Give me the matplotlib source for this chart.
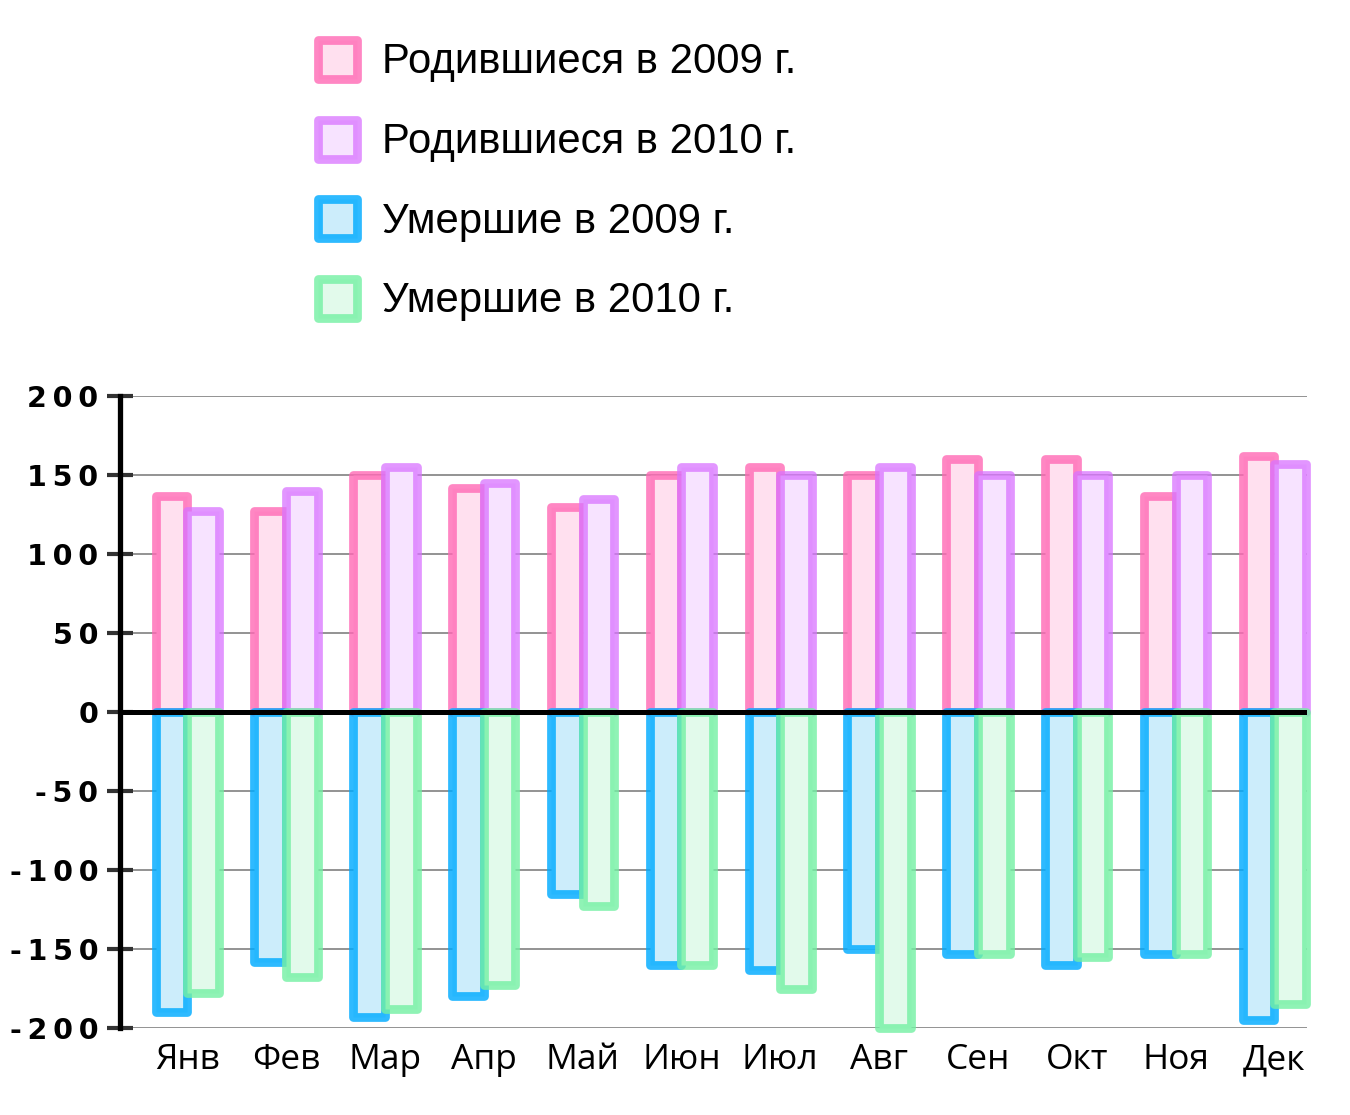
import numpy as np
import matplotlib.pyplot as plt
from matplotlib.patches import Rectangle

# data
months = ["Янв", "Фев", "Мар", "Апр", "Май", "Июн",
          "Июл", "Авг", "Сен", "Окт", "Ноя", "Дек"]
born_2009 = [137, 127, 150, 142, 130, 150, 155, 150, 160, 160, 137, 162]
born_2010 = [127, 140, 155, 145, 135, 155, 150, 155, 150, 150, 150, 157]
died_2009 = [-190, -158, -193, -180, -115, -160, -163, -150, -153, -160, -153, -195]
died_2010 = [-178, -168, -188, -173, -123, -160, -175, -200, -153, -155, -153, -185]

labels = ["Родившиеся в 2009 г.", "Родившиеся в 2010 г.",
          "Умершие в 2009 г.", "Умершие в 2010 г."]
edges = [(1.0, 0.41, 0.71, 0.8), (0.85, 0.45, 1.0, 0.75),
         (0.0, 0.67, 1.0, 0.82), (0.45, 0.94, 0.64, 0.8)]
fills = ["#ffe0ef", "#f7e3ff", "#ccedfb", "#e2faeb"]

W, H = 1350, 1115
fig = plt.figure(figsize=(W / 100, H / 100), dpi=100)
ax = fig.add_axes([120 / W, (H - 1028) / H, (1307 - 120) / W, (1028 - 396) / H])

x = np.arange(len(months))
w = 0.32
lw = 6.3
for vals, off, ec, fc in [(born_2009, -w / 2, edges[0], fills[0]),
                          (born_2010, w / 2, edges[1], fills[1]),
                          (died_2009, -w / 2, edges[2], fills[2]),
                          (died_2010, w / 2, edges[3], fills[3])]:
    ax.bar(x + off, vals, w, color=fc, edgecolor=ec, linewidth=lw,
           joinstyle="round", clip_on=False, zorder=3)

ax.axhline(0, color="black", lw=3.6, zorder=6)
ax.set_xlim(-0.68, 11.33)
ax.set_ylim(-200, 200)

yt = np.arange(-200, 201, 50)
ax.set_yticks(yt)


def fmt(v):
    s = "\u2009".join(str(abs(v)))
    return ("-\u2009" + s) if v < 0 else s


ax.set_yticklabels([fmt(v) for v in yt])
ax.yaxis.grid(True, color="#8a8a8a", lw=1.3)
ax.set_axisbelow(True)
ax.tick_params(axis="y", direction="inout", length=19, width=3, color="#333333",
               pad=6, labelsize=20.5)
for t in ax.get_yticklabels():
    t.set_fontweight("bold")
    t.set_family("DejaVu Sans")

ax.set_xticks(x)
ax.set_xticklabels(months, family="Open Sans", fontsize=25.5)
ax.tick_params(axis="x", length=0, pad=11)

for s in ["top", "right", "bottom"]:
    ax.spines[s].set_visible(False)
ax.spines["left"].set_linewidth(3.8)
ax.spines["left"].set_color("black")

# legend drawn by hand
for i, (lab, ec, fc) in enumerate(zip(labels, edges, fills)):
    cy = 59 + i * 79.5
    r = Rectangle((318 / W, (H - cy - 20) / H), 39 / W, 39 / H,
                  transform=fig.transFigure, facecolor=fc, edgecolor=ec,
                  linewidth=lw, joinstyle="round")
    fig.add_artist(r)
    fig.text(382 / W, (H - cy - 14.5) / H, lab, family="Liberation Sans",
             fontsize=30.2, va="baseline", ha="left")

fig.savefig("out.png", dpi=100)
